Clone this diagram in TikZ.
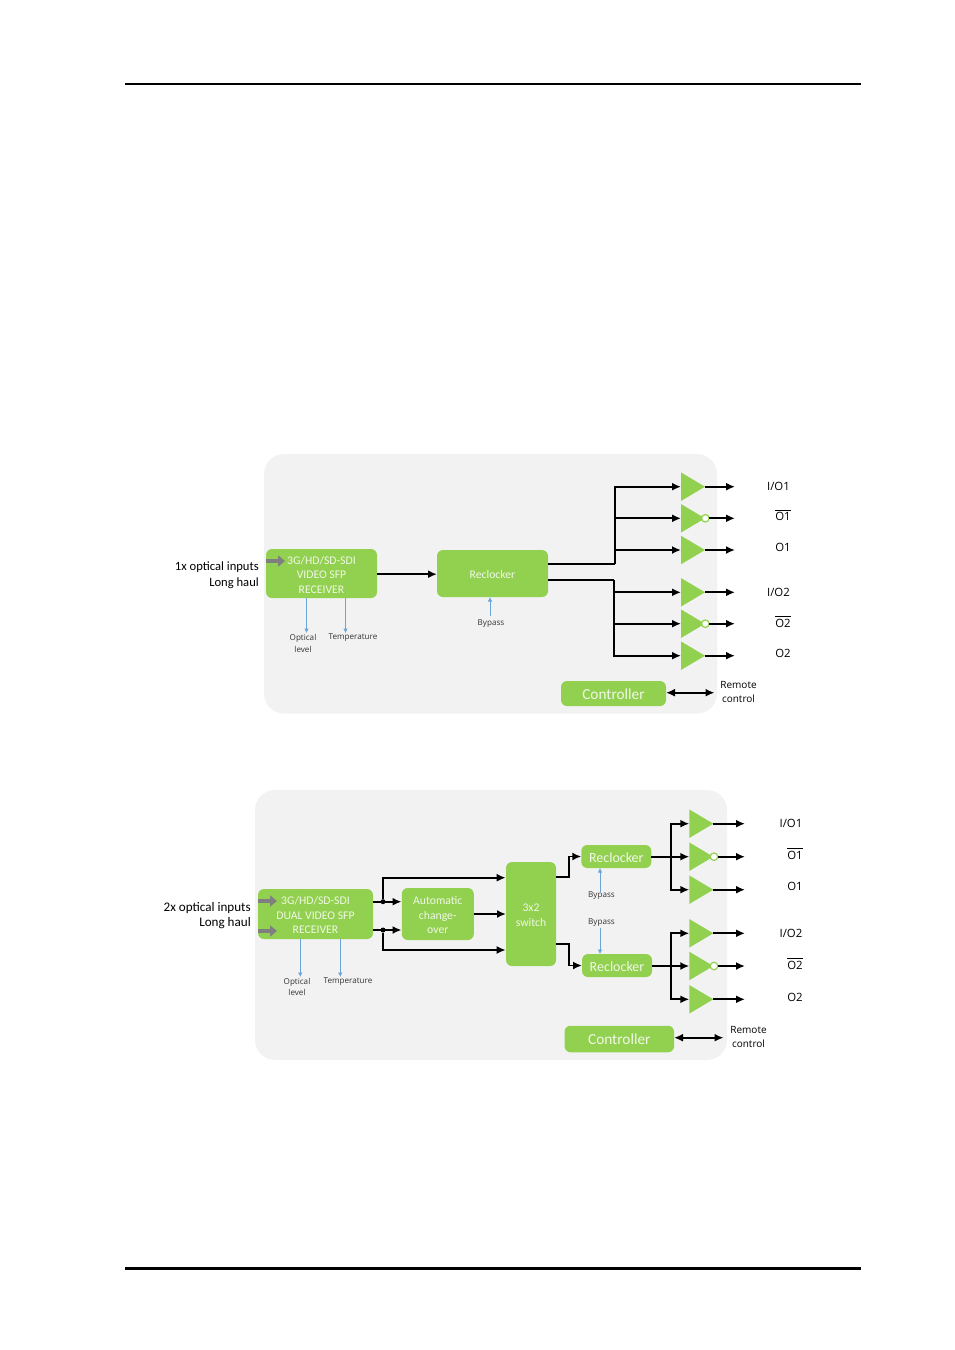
\documentclass[tikz,border=0pt]{standalone}
\usepackage{fontspec}
\setmainfont{Carlito}
\newfontfamily\lab{Open Sans}
\usetikzlibrary{arrows.meta,shapes.geometric}
\definecolor{grn}{HTML}{92D050}
\definecolor{pan}{HTML}{F2F2F2}
\definecolor{gry}{HTML}{7F7F7F}
\definecolor{blu}{HTML}{6AA5D8}
\definecolor{wht}{HTML}{F0F8E6}
\newcommand\ovl[1]{\vbox{\hrule height 0.9pt \kern1.6pt\hbox{#1}}}
\newcommand\dn[1]{\vbox{\kern4.6pt\hbox{\begin{tabular}{@{}c@{}}#1\end{tabular}}}}
\tikzset{
  panel/.style={fill=pan,rounded corners=20pt,anchor=north west,inner sep=0pt,outer sep=0pt},
  gbox/.style={fill=grn,rounded corners=6pt,inner sep=0pt,outer sep=0pt,text=wht},
  recv/.style={gbox,font=\fontsize{11.7}{14.5}\selectfont},
  ctl/.style={gbox,font=\fontsize{15.3}{18}\selectfont},
  tri/.style={isosceles triangle,isosceles triangle stretches=true,fill=grn,minimum width=28.5pt,minimum height=24pt,inner sep=0pt,outer sep=0pt,anchor=lower side,shape border rotate=0},
  bub/.style={circle,draw=grn,line width=1.2pt,fill=white,minimum size=7.5pt,inner sep=0pt,outer sep=0pt},
  ln/.style={draw=black,line width=1.8pt},
  arr/.style={ln,-{Latex[length=9pt,width=8pt]}},
  darr/.style={ln,{Latex[length=9pt,width=8pt]}-{Latex[length=9pt,width=8pt]}},
  bluearr/.style={draw=blu,line width=.7pt,-{Latex[length=4.5pt,width=4.5pt]}},
  garr/.style={draw=gry,line width=4.5pt,-{Triangle[length=7pt,width=11pt]}},
  sidelbl/.style={align=right,anchor=east,inner sep=0pt,font=\fontsize{12.6}{15.5}\selectfont},
  smalllbl/.style={align=center,inner sep=0pt,font=\lab\fontsize{8.1}{11.5}\selectfont,text=black!80},
  remlbl/.style={align=center,inner sep=0pt,font=\lab\fontsize{10}{14}\selectfont},
  outlbl/.style={inner sep=0pt,anchor=base,font=\lab\fontsize{11.4}{13}\selectfont},
  jdot/.style={circle,fill=black,minimum size=5pt,inner sep=0pt,outer sep=0pt},
  pagerule/.style={draw=black}
}
\begin{document}
\begin{tikzpicture}[x=1pt,y=-1pt]
\useasboundingbox (0,0) rectangle (955,1350);
% page rules
\coordinate (ra) at (125,84); \coordinate (rb) at (861,84);
\coordinate (rc) at (125,1268); \coordinate (rd) at (861,1268);
\draw[pagerule,line width=2pt] (ra) -- (rb);
\draw[pagerule,line width=3pt] (rc) -- (rd);
% ---------- panel 1
\node[panel,minimum width=453pt,minimum height=259.5pt] (p1) at (264,454) {};
\node[recv,minimum width=111pt,minimum height=49pt] (rx1) at (321.5,573.5) {\dn{3G/HD/SD-SDI\\VIDEO SFP\\RECEIVER}};
\coordinate (g1a) at (266,561); \coordinate (g1b) at (285,561);
\draw[garr] (g1a) -- (g1b);
\node[recv,minimum width=111pt,minimum height=47pt] (rc1) at (492.5,573.5) {\dn{Reclocker}};
\node[ctl,minimum width=105pt,minimum height=25pt] (ct1) at (613.5,693.5) {\dn{Controller}};
\coordinate (mid1) at (400,574.2);
\draw[arr] (mid1 -| rx1.east) -- (mid1 -| rc1.west);
\foreach \n/\y in {a1/486.7,a2/518.3,a3/550,a4/592.3,a5/623.7,a6/655.7}
  \node[tri] (\n) at (681,\y) {};
\node[bub] (b2) at (705.3,518.3) {};
\node[bub] (b5) at (705.3,623.7) {};
\coordinate (tr1) at (614.7,564);
\coordinate (tr2) at (614.2,580);
\coordinate (tr1s) at (548,564);
\coordinate (tr2s) at (548,580);
\draw[ln] (tr1s) -- (tr1);
\draw[ln] (tr2s) -- (tr2);
\foreach \n in {a1,a2,a3} \draw[arr] (tr1) |- (\n.lower side);
\foreach \n in {a4,a5,a6} \draw[arr] (tr2) |- (\n.lower side);
\foreach \n/\y in {a1/486.7,a3/550,a4/592.3,a6/655.7}{
  \coordinate (e\n) at (735,\y);
  \draw[arr] (\n.apex) -- (e\n);
}
\coordinate (ea2) at (735,518.3); \coordinate (ea5) at (735,623.7);
\draw[arr] (b2.east) -- (ea2);
\draw[arr] (b5.east) -- (ea5);
\node[outlbl] (l1) at (778.5,490) {I/O1};
\node[outlbl] (l2) at (783,520.5) {\ovl{O1}};
\node[outlbl] (l3) at (783,551) {O1};
\node[outlbl] (l4) at (778.5,596.5) {I/O2};
\node[outlbl] (l5) at (783,627) {\ovl{O2}};
\node[outlbl] (l6) at (783,657.5) {O2};
\coordinate (rm1) at (714.5,692.7);
\draw[darr] (rm1 -| ct1.east) -- (rm1);
\node[remlbl] (rt1) at (738.5,692) {Remote\\control};
\node[sidelbl] (in1) at (259,575) {1x optical inputs\\Long haul};
\coordinate (ol1a) at (306.5,598); \coordinate (ol1b) at (306.5,633);
\coordinate (te1a) at (345.5,598); \coordinate (te1b) at (345.5,633);
\draw[bluearr] (ol1a) -- (ol1b);
\draw[bluearr] (te1a) -- (te1b);
\node[smalllbl] (ol1) at (303,643.5) {Optical\\level};
\node[smalllbl] (te1) at (353,638) {Temperature};
\node[smalllbl] (by1) at (491,624) {Bypass};
\coordinate (by1a) at (490,616);
\draw[bluearr] (by1a) -- (by1a |- rc1.south);
% ---------- panel 2
\node[panel,minimum width=472pt,minimum height=270pt] (p2) at (255,790) {};
\node[recv,minimum width=115pt,minimum height=50pt] (rx2) at (315.5,914) {\dn{3G/HD/SD-SDI\\DUAL VIDEO SFP\\RECEIVER}};
\coordinate (g2a) at (258,901); \coordinate (g2b) at (277,901);
\coordinate (g2c) at (258,931); \coordinate (g2d) at (277,931);
\draw[garr] (g2a) -- (g2b);
\draw[garr] (g2c) -- (g2d);
\node[recv,minimum width=72pt,minimum height=52pt] (au) at (437.8,914) {\dn{Automatic\\change-\\over}};
\node[recv,minimum width=50pt,minimum height=104pt] (sw) at (531,914) {\dn{3x2\\switch}};
\node[ctl,minimum width=70pt,minimum height=23pt,font=\fontsize{14}{17}\selectfont] (rc2) at (616.3,856.5) {\dn{Reclocker}};
\node[ctl,minimum width=70pt,minimum height=23pt,font=\fontsize{14}{17}\selectfont] (rc3) at (617,965.5) {\dn{Reclocker}};
\node[ctl,minimum width=109.5pt,minimum height=26.5pt] (ct2) at (619.3,1039) {\dn{Controller}};
\node[jdot] (d1) at (383,901.7) {};
\node[jdot] (d2) at (383,930) {};
\coordinate (s1) at (373,901.7); \coordinate (s2) at (373,930);
\coordinate (e1) at (401.5,901.7); \coordinate (e2) at (401.5,930);
\draw[arr] (s1) -- (e1);
\draw[arr] (s2) -- (e2);
\coordinate (sw1) at (505.7,877.7); \coordinate (sw2) at (505.7,950);
\draw[arr] (d1) |- (sw1);
\draw[arr] (d2) |- (sw2);
\draw[arr] (au.east) -- (au.east -| sw.west);
\coordinate (q1) at (556,877.3); \coordinate (q2) at (569.3,877.3);
\coordinate (q3) at (556,944.3); \coordinate (q4) at (569.3,944.3);
\draw[arr] (q1) -- (q2) |- (rc2.west);
\draw[arr] (q3) -- (q4) |- (rc3.west);
\foreach \n/\y in {c1/823.7,c2/856.7,c3/889.7,c4/933.3,c5/966,c6/999.3}
  \node[tri] (\n) at (689.3,\y) {};
\node[bub] (b8) at (714,856.7) {};
\node[bub] (b9) at (714,966) {};
\coordinate (tr3) at (670.7,856.7);
\coordinate (tr4) at (670.7,966);
\draw[ln] (tr3 -| rc2.east) -- (tr3);
\draw[ln] (tr4 -| rc3.east) -- (tr4);
\foreach \n in {c1,c2,c3} \draw[arr] (tr3) |- (\n.lower side);
\foreach \n in {c4,c5,c6} \draw[arr] (tr4) |- (\n.lower side);
\foreach \n/\y in {c1/823.7,c3/889.7,c4/933.3,c6/999.3}{
  \coordinate (e\n) at (745,\y);
  \draw[arr] (\n.apex) -- (e\n);
}
\coordinate (ec2) at (745,856.7); \coordinate (ec5) at (745,966);
\draw[arr] (b8.east) -- (ec2);
\draw[arr] (b9.east) -- (ec5);
\node[outlbl] (m1) at (791,827.5) {I/O1};
\node[outlbl] (m2) at (795,859) {\ovl{O1}};
\node[outlbl] (m3) at (795,890) {O1};
\node[outlbl] (m4) at (791,937.5) {I/O2};
\node[outlbl] (m5) at (795,969) {\ovl{O2}};
\node[outlbl] (m6) at (795,1001) {O2};
\coordinate (rm2) at (723.5,1037.7);
\draw[darr] (rm2 -| ct2.east) -- (rm2);
\node[remlbl] (rt2) at (748.5,1037) {Remote\\control};
\node[sidelbl,font=\fontsize{13.1}{15.5}\selectfont] (in2) at (251,915.5) {2x optical inputs\\Long haul};
\coordinate (ol2a) at (300.3,939); \coordinate (ol2b) at (300.3,977);
\coordinate (te2a) at (340.3,939); \coordinate (te2b) at (340.3,977);
\draw[bluearr] (ol2a) -- (ol2b);
\draw[bluearr] (te2a) -- (te2b);
\node[smalllbl] (ol2) at (297,987) {Optical\\level};
\node[smalllbl] (te2) at (348,981.5) {Temperature};
\node[smalllbl] (by2) at (601.5,896) {Bypass};
\node[smalllbl] (by3) at (601.5,923) {Bypass};
\coordinate (by2a) at (600,891.5); \coordinate (by3a) at (600,927.5);
\draw[bluearr] (by2a) -- (by2a |- rc2.south);
\draw[bluearr] (by3a) -- (by3a |- rc3.north);
\end{tikzpicture}
\end{document}
